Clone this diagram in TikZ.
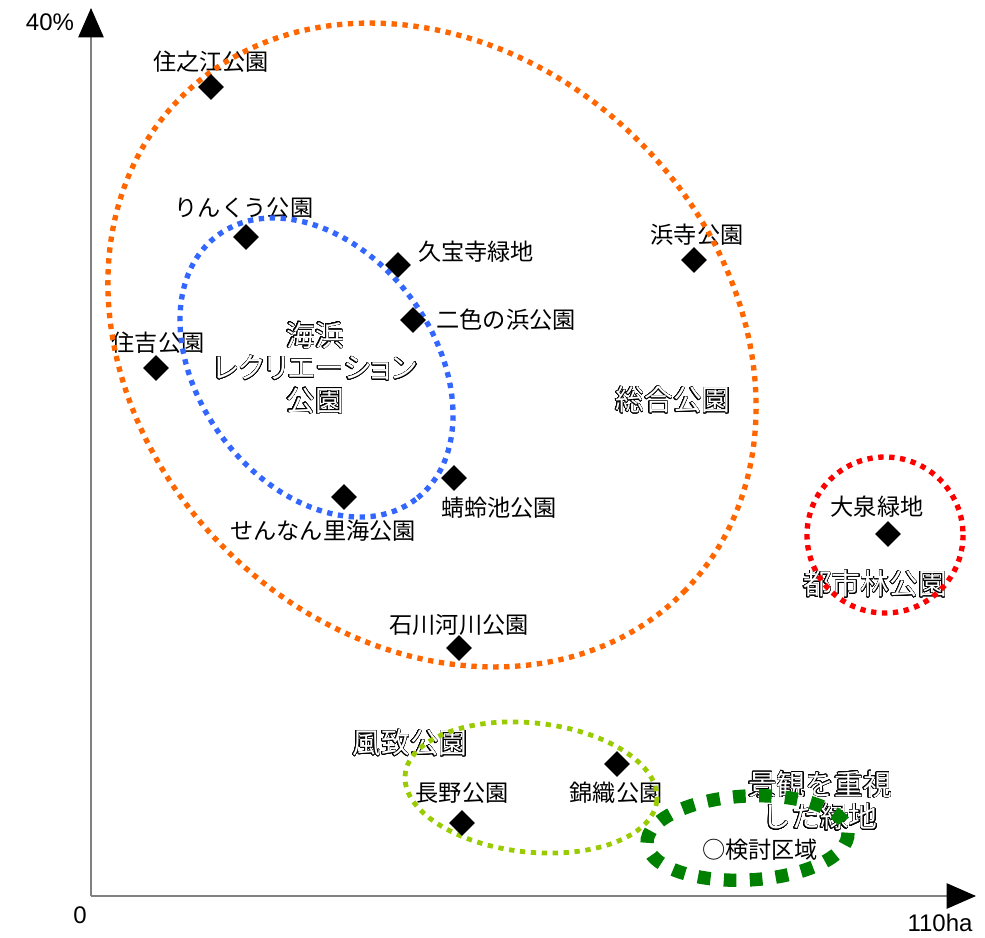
\documentclass[tikz,border=0pt]{standalone}
\usepackage{fontspec}
\setmainfont{Liberation Sans}
\newfontfamily\jp{Noto Sans CJK JP}
\newfontfamily\jpp{Noto Sans CJK JP}[RawFeature=+palt]
\usepackage{contour}
\contourlength{0.4pt}
\contournumber{32}
\usetikzlibrary{shapes.geometric,arrows.meta}

\definecolor{orangeline}{RGB}{255,102,0}
\definecolor{blueline}{RGB}{51,102,255}
\definecolor{redline}{RGB}{255,0,0}
\definecolor{limeline}{RGB}{153,204,0}
\definecolor{greenline}{RGB}{0,128,0}
\definecolor{axisgray}{RGB}{128,128,128}

% white letters with a thin black outline
\newcommand{\hollow}[1]{\textcolor{white}{\contour{black}{#1}}}

\tikzset{
  park/.style={font=\jp\fontsize{17.4}{20}\selectfont, inner sep=0pt},
  kind/.style={font=\jp\fontsize{21.6}{24.4}\selectfont, align=center, inner sep=0pt},
  axislabel/.style={font=\fontsize{18}{20}\selectfont, inner sep=0pt},
  site/.style={shape=diamond, fill=black, inner sep=0pt, minimum width=19.5pt, minimum height=19.5pt},
  dotline/.style={line width=4pt, dash pattern=on 4pt off 4.2pt},
  dashline/.style={line width=10pt, dash pattern=on 9.5pt off 10pt},
  axis/.style={draw=axisgray, line width=1.1pt, -{Triangle[length=22pt,width=19pt,black]}}
}

\begin{document}
\begin{tikzpicture}[x=0.75pt, y=-0.75pt]
\useasboundingbox (0,0) rectangle (985,938);

% axes
\coordinate (O) at (91,896);
\coordinate (ytip) at (91,8);
\coordinate (xtip) at (976,896);
\draw[axis] (O) -- (ytip);
\draw[axis] (O) -- (xtip);
\node[axislabel] (ymax) at (50,22) {40\%};
\node[axislabel] (zero) at (80,915) {0};
\node[axislabel] (xmax) at (940,923) {110ha};

% category labels
\node[kind] (kaihin) at (315,368) {\hollow{海浜}\\{\jpp\hollow{レクリエーション}}\\\hollow{公園}};
\node[kind] (sogo) at (673,400) {\hollow{総合公園}};
\node[kind] (toshirin) at (875,584) {\hollow{都市林公園}};
\node[kind] (fuchi) at (410,743) {\hollow{風致公園}};
\node[kind] (keikan) at (820,801) {\hollow{景観を重視}\\\hollow{した緑地}};

% park labels
\node[park] (l1) at (211,62) {住之江公園};
\node[park] (l2) at (244,208) {りんくう公園};
\node[park] (l3) at (476,252) {久宝寺緑地};
\node[park] (l4) at (506,320) {二色の浜公園};
\node[park] (l5) at (697,235) {浜寺公園};
\node[park] (l6) at (158,343) {住吉公園};
\node[park] (l7) at (499,508) {蜻蛉池公園};
\node[park] (l8) at (323,531) {せんなん里海公園};
\node[park] (l9) at (459,625) {石川河川公園};
\node[park] (l10) at (877,507) {大泉緑地};
\node[park] (l11) at (462,793) {長野公園};
\node[park] (l12) at (616,793) {錦織公園};
\node[park] (l13) at (760,850) {○検討区域};

% group outlines
\draw[dotline, orangeline, rotate around={-44:(432,345)}] (432,345) ellipse [x radius=352.6, y radius=290.4];
\draw[dotline, blueline, rotate around={-53:(316.5,367.5)}] (316.5,367.5) ellipse [x radius=165, y radius=117.3];
\draw[dotline, redline] (885,535) circle [radius=78];
\draw[dotline, limeline, line width=3.6pt, rotate around={-6:(531,787.5)}] (531,787.5) ellipse [x radius=126.5, y radius=64.6];
\draw[dashline, greenline, rotate around={3:(747.5,838)}] (747.5,838) ellipse [x radius=100.6, y radius=42];

% park locations
\node[site] (d1) at (211,87) {};
\node[site] (d2) at (246,237) {};
\node[site] (d3) at (398,265) {};
\node[site] (d4) at (413,320) {};
\node[site] (d5) at (694,260) {};
\node[site] (d6) at (156,368) {};
\node[site] (d7) at (454,478) {};
\node[site] (d8) at (344,497) {};
\node[site] (d9) at (459,648) {};
\node[site] (d10) at (888,534) {};
\node[site] (d11) at (462,823) {};
\node[site] (d12) at (617,764) {};
\end{tikzpicture}
\end{document}
